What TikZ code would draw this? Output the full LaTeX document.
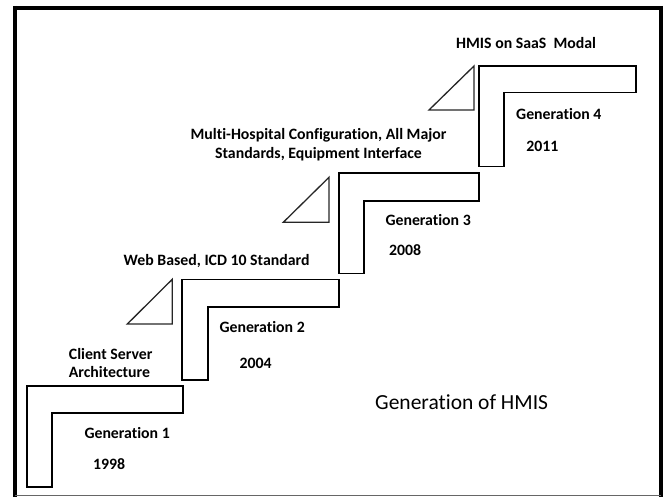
\documentclass[tikz,border=0pt]{standalone}
\usepackage{fontspec}
\setmainfont[Ligatures=NoCommon]{Carlito}
\begin{document}
\begin{tikzpicture}[x=1pt,y=-1pt,
  stepshape/.style={draw=black, line width=1.7pt, line join=miter},
  tri/.style={draw=black!85, line width=1.3pt, line join=miter},
  framethick/.style={draw=black, line width=4pt},
  framethin/.style={draw=black!60, line width=1pt},
  lbl/.style={font=\fontsize{15.8}{18}\selectfont\bfseries, inner sep=0pt, anchor=base west, text=black},
  ttl/.style={font=\fontsize{21.5}{26}\selectfont, inner sep=0pt, anchor=base west, text=black}]
\useasboundingbox (0,0) rectangle (668,497);
% frame
\draw[framethick] (15.3,6) -- (15.3,497);
\draw[framethick] (661,6) -- (661,497);
\draw[framethick] (13.3,8) -- (663,8);
\draw[framethin] (15.3,495.6) -- (661,495.6);
% steps
\draw[stepshape] (27,386) -- (183,386) -- (183,413) -- (52,413) -- (52,487) -- (27,487) -- cycle;
\draw[stepshape] (182,279.5) -- (339,279.5) -- (339,307) -- (208,307) -- (208,380) -- (182,380) -- cycle;
\draw[stepshape] (339,172.8) -- (479,172.8) -- (479,201) -- (364,201) -- (364,273.5) -- (339,273.5) -- cycle;
\draw[stepshape] (479,66) -- (636,66) -- (636,92.5) -- (504,92.5) -- (504,166.5) -- (479,166.5) -- cycle;
% triangles
\draw[tri] (127.3,324) -- (172.3,324) -- (172.3,279.3) -- cycle;
\draw[tri] (283.3,222.3) -- (329,222.3) -- (329,177.3) -- cycle;
\draw[tri] (429,110) -- (474,110) -- (474,66) -- cycle;
% labels
\node[lbl] (saas) at (456,49) {HMIS on SaaS\ \ Modal};
\node[lbl, anchor=base] (multi) at (318.5,140) {\begin{tabular}[t]{@{}c@{}}Multi-Hospital Configuration, All Major\\Standards, Equipment Interface\end{tabular}};
\node[lbl] (web) at (123.5,265) {Web Based, ICD 10 Standard};
\node[lbl] (client) at (68.7,359.3) {\begin{tabular}[t]{@{}l@{}}Client Server\\Architecture\end{tabular}};
\node[lbl] (g1) at (84.3,438.3) {Generation 1};
\node[lbl] (y1) at (92.8,469.3) {1998};
\node[lbl] (g2) at (219.3,332.7) {Generation 2};
\node[lbl] (y2) at (239.5,368.3) {2004};
\node[lbl] (g3) at (385.3,225.7) {Generation 3};
\node[lbl] (y3) at (388.8,255.7) {2008};
\node[lbl] (g4) at (516,120) {Generation 4};
\node[lbl] (y4) at (526.2,151) {2011};
\node[ttl] (title) at (375,409.3) {Generation of HMIS};
\end{tikzpicture}
\end{document}
